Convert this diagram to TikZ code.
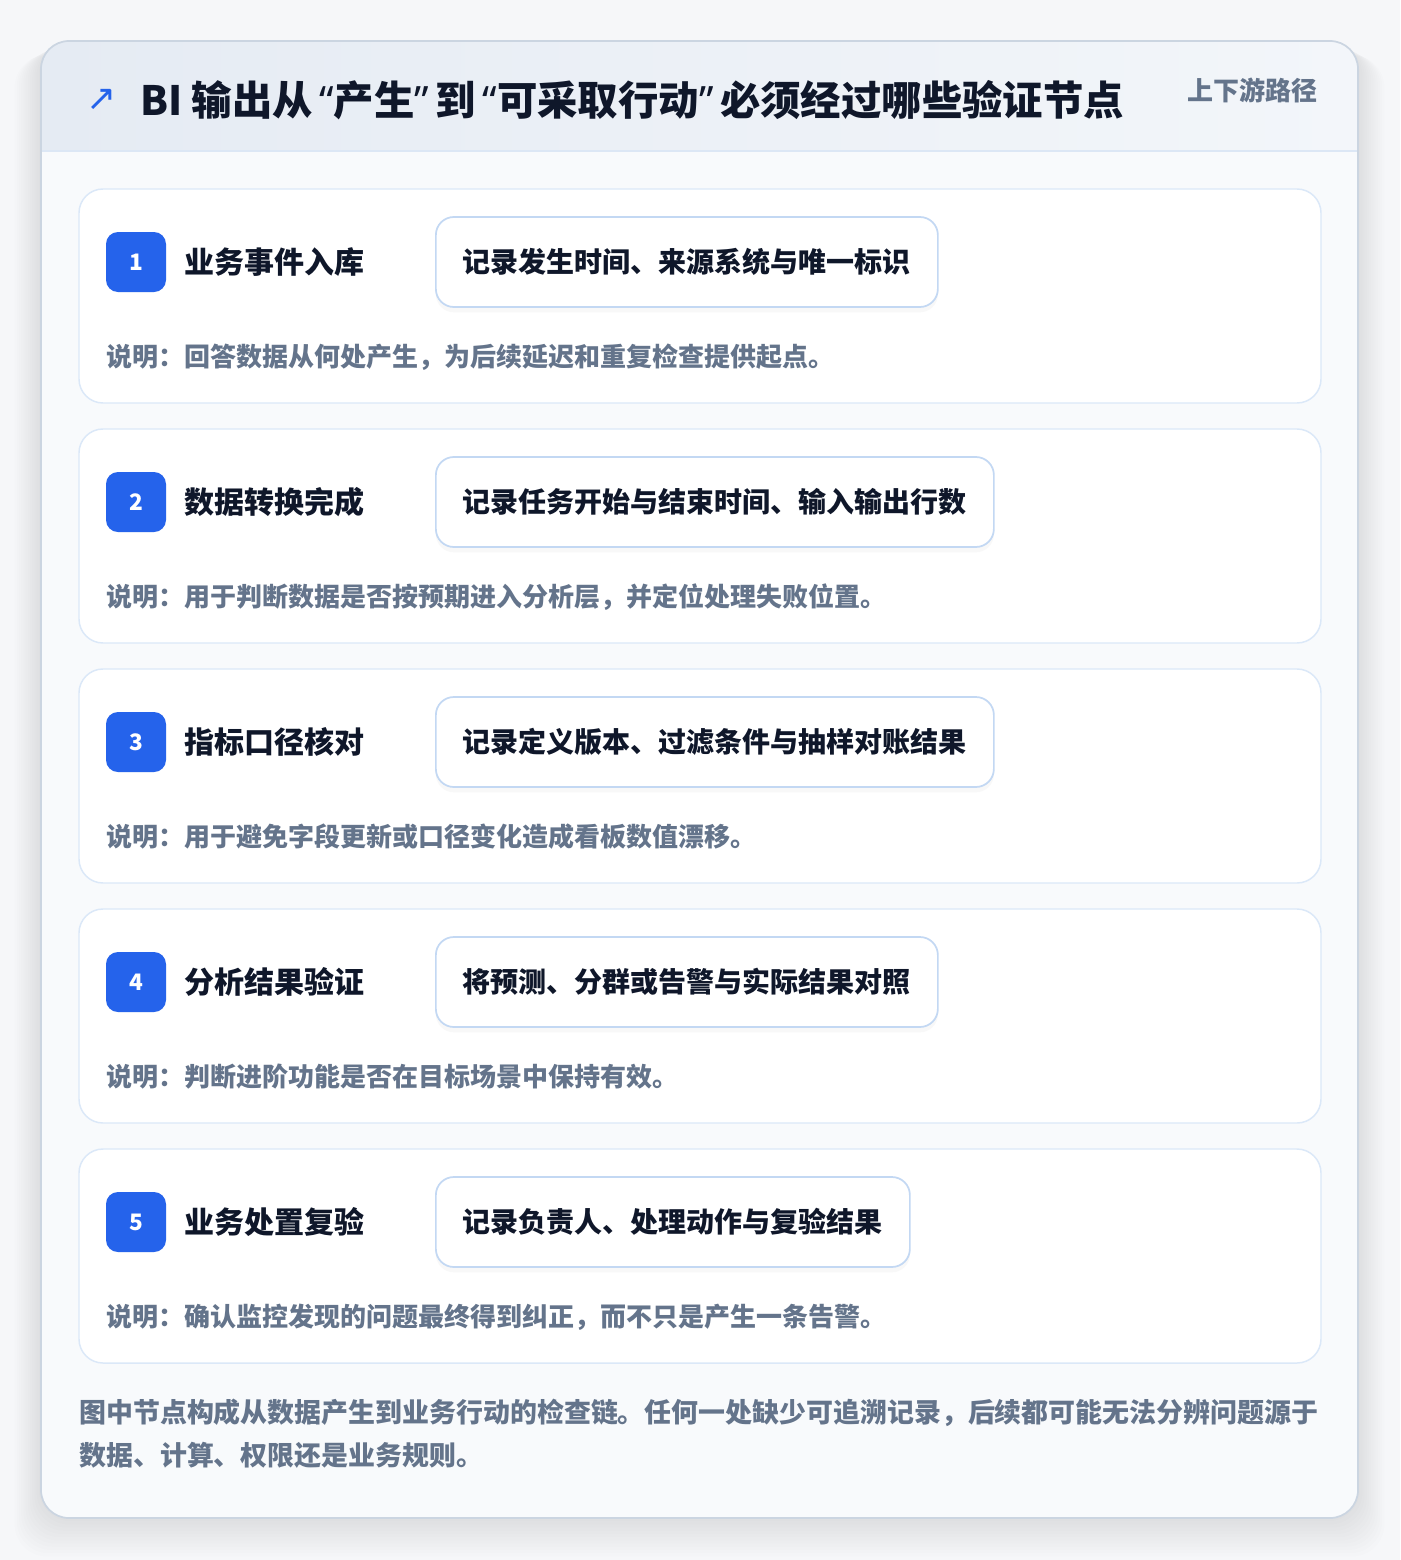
\documentclass[tikz,border=0pt]{standalone}
\usepackage{fontspec}
\setmainfont{Noto Sans CJK SC}
\newfontfamily\heavyfont{Noto Sans CJK SC Black}
\newfontfamily\symfont{DejaVu Sans}
\newfontfamily\latinfont{Noto Sans}
\newcommand{\openq}{\kern0.16em{\latinfont\bfseries “}}
\newcommand{\closeq}{{\latinfont\bfseries ”}\kern0.16em}
\usepackage{tikz}
\usetikzlibrary{positioning,shadows}

\definecolor{pagebg}{HTML}{F6F7F9}
\definecolor{panelbg}{HTML}{F8FAFC}
\definecolor{panelline}{HTML}{CBD5E1}
\definecolor{headl}{HTML}{E5EBF3}
\definecolor{headr}{HTML}{F3F6FA}
\definecolor{headline}{HTML}{DCE7F5}
\definecolor{cardline}{HTML}{DBE8F8}
\definecolor{recline}{HTML}{C3D8F3}
\definecolor{ink}{HTML}{0F172A}
\definecolor{muted}{HTML}{64748B}
\definecolor{accent}{HTML}{2563EB}

\begin{document}
\begin{tikzpicture}[x=0.75pt, y=-0.75pt,
    card/.style={draw=cardline, line width=1.1pt, fill=white, rounded corners=18pt,
                 minimum width=931.5pt, minimum height=160.5pt},
    badge/.style={fill=accent, rounded corners=9pt, minimum size=45pt, inner sep=0pt,
                  text=white, font=\fontsize{17}{19}\selectfont\bfseries},
    steplabel/.style={text=ink, inner sep=0pt, font=\fontsize{22.5}{26}\selectfont\bfseries},
    recbox/.style={draw=recline, line width=1.3pt, fill=white, rounded corners=13.5pt,
                   minimum height=67.5pt, inner xsep=20.25pt, text=ink,
                   drop shadow={opacity=0.05, shadow xshift=0pt, shadow yshift=-4pt},
                   font=\fontsize{21}{24}\selectfont\bfseries},
    note/.style={text=muted, inner sep=0pt, font=\fontsize{19.5}{22}\selectfont\bfseries}]

    \useasboundingbox (0,0) rectangle (1400,1560);
    \fill[pagebg] (0,0) rectangle (1400,1560);

    % soft shadow under the panel
    \foreach \s in {1,...,12}
        \fill[black, opacity=0.007, rounded corners=24pt]
            (41-\s*2.2,41+\s*1.2) rectangle (1358+\s*2.2,1518+\s*3.2);

    % panel and header band
    \fill[panelbg, rounded corners=21pt] (41,41) rectangle (1358,1518);
    \begin{scope}
        \clip[rounded corners=21pt] (41,41) rectangle (1358,1518);
        \shade[left color=headl, right color=headr] (41,41) rectangle (1358,151);
    \end{scope}
    \draw[headline, line width=1.2pt] (41,151) -- (1358,151);
    \draw[panelline, line width=1.3pt, rounded corners=21pt] (41,41) rectangle (1358,1518);

    \node[text=accent, inner sep=0pt, font=\symfont\fontsize{27}{30}\selectfont]
        (icon) at (102,100) {↗};
    \node[anchor=west, text=ink, inner sep=0pt, font=\heavyfont\fontsize{30.3}{35}\selectfont]
        (title) at (140,100) {BI 输出从\openq 产生\closeq 到\openq 可采取行动\closeq 必须经过哪些验证节点};
    \node[anchor=east, text=muted, inner sep=0pt, font=\fontsize{19.5}{23}\selectfont\bfseries]
        (tag) at (1318,90) {上下游路径};

    % the five check points
    \foreach \i/\y/\lab/\rec/\txt in {
        1/189/业务事件入库/记录发生时间、来源系统与唯一标识/说明：回答数据从何处产生，为后续延迟和重复检查提供起点。,
        2/429/数据转换完成/记录任务开始与结束时间、输入输出行数/说明：用于判断数据是否按预期进入分析层，并定位处理失败位置。,
        3/669/指标口径核对/记录定义版本、过滤条件与抽样对账结果/说明：用于避免字段更新或口径变化造成看板数值漂移。,
        4/909/分析结果验证/将预测、分群或告警与实际结果对照/说明：判断进阶功能是否在目标场景中保持有效。,
        5/1149/业务处置复验/记录负责人、处理动作与复验结果/说明：确认监控发现的问题最终得到纠正，而不只是产生一条告警。}
    {
        \node[card] (card\i) at (700,\y+107) {};
        \node[badge] (num\i) at (136,\y+73) {\i};
        \node[steplabel, anchor=west] (lab\i) at (184,\y+73) {\lab};
        \node[recbox, anchor=west] (rec\i) at (435,\y+73) {\rec};
        \node[note, anchor=west] (note\i) at (106,\y+168) {\txt};
    }

    \node[anchor=north west, text=muted, inner sep=0pt, align=left,
          font=\fontsize{20.2}{32.3}\selectfont\bfseries] (summary) at (79,1399)
        {图中节点构成从数据产生到业务行动的检查链。任何一处缺少可追溯记录，后续都可能无法分辨问题源于\\
         数据、计算、权限还是业务规则。};
\end{tikzpicture}
\end{document}
